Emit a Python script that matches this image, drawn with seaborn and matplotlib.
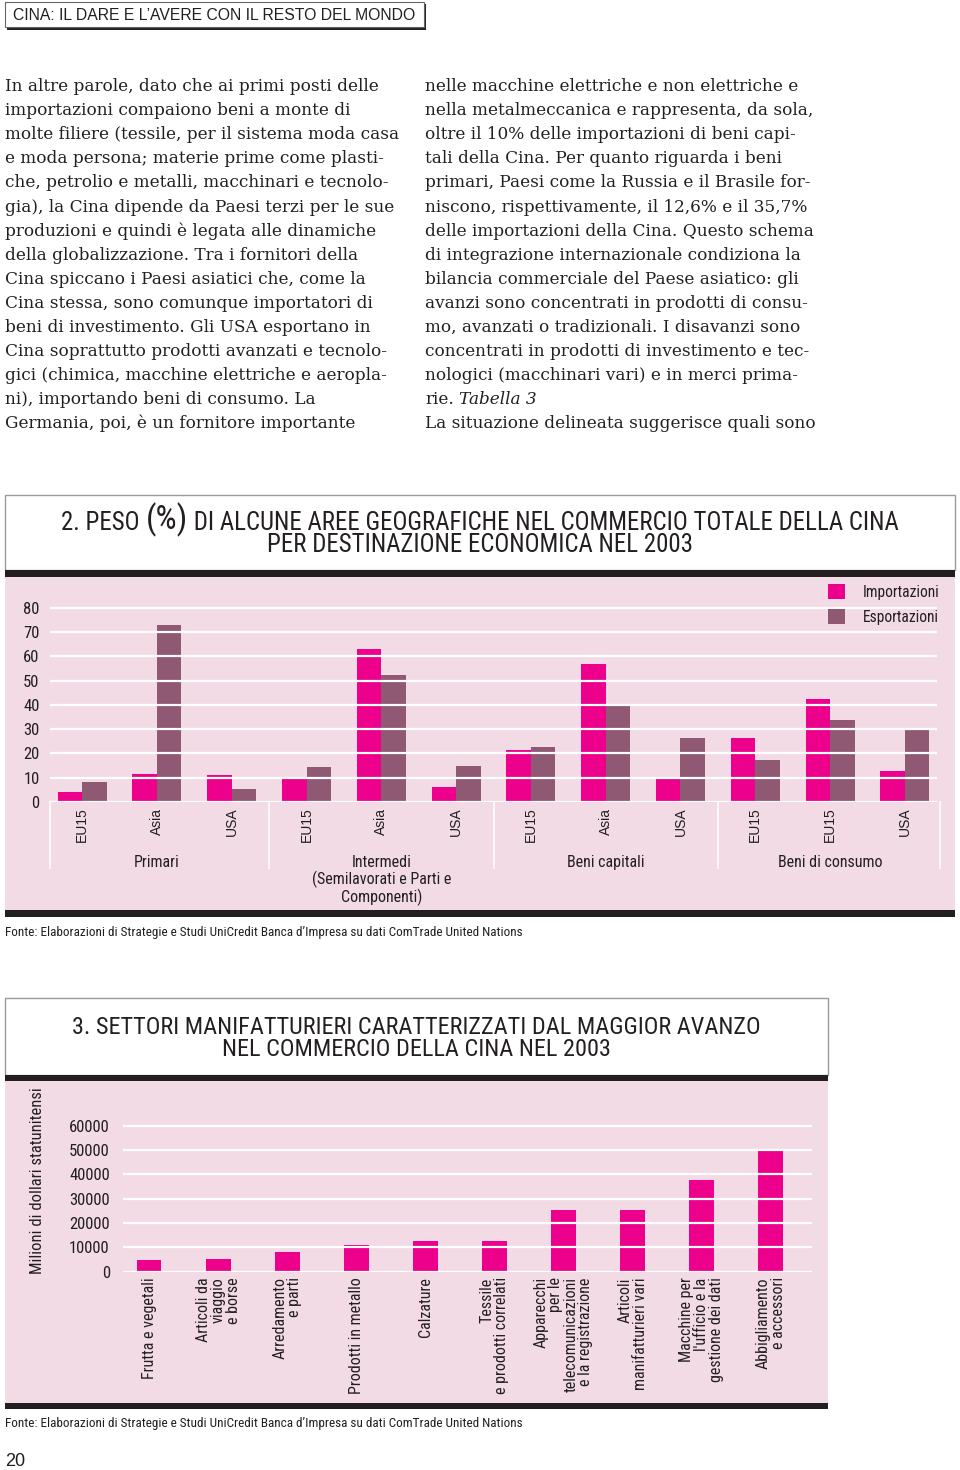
#%% libraries
import pandas as pd
import seaborn as sb
import matplotlib.pyplot as plt
from matplotlib import font_manager as fm
from matplotlib.patches import Rectangle

#%% data
# grafico 2 - peso (%) per area e destinazione economica
gruppi = ['Primari', 'Intermedi\n(Semilavorati e Parti e\nComponenti)', 'Beni capitali', 'Beni di consumo']
aree = ['EU15', 'Asia', 'USA', 'EU15', 'Asia', 'USA', 'EU15', 'Asia', 'USA', 'EU15', 'EU15', 'USA']
importazioni = [4.0, 11.7, 11.1, 10.4, 63.1, 6.3, 21.4, 56.8, 10.3, 26.3, 42.6, 12.9]
esportazioni = [8.2, 73.1, 5.4, 14.3, 52.4, 14.7, 22.7, 39.6, 26.3, 17.3, 33.8, 30.7]

# grafico 3 - settori con maggior avanzo (milioni di dollari)
settori = ['Frutta e vegetali', 'Articoli da\nviaggio\ne borse', 'Arredamento\ne parti',
           'Prodotti in metallo', 'Calzature', 'Tessile\ne prodotti correlati',
           'Apparecchi\nper le\ntelecomunicazioni\ne la registrazione',
           'Articoli\nmanifatturieri vari', "Macchine per\nl'ufficio e la\ngestione dei dati",
           'Abbigliamento\ne accessori']
avanzo = [4660, 5070, 8220, 10820, 12470, 12470, 25340, 25340, 37810, 49590]

testo_sx = ['In altre parole, dato che ai primi posti delle',
            'importazioni compaiono beni a monte di',
            'molte filiere (tessile, per il sistema moda casa',
            'e moda persona; materie prime come plasti-',
            'che, petrolio e metalli, macchinari e tecnolo-',
            'gia), la Cina dipende da Paesi terzi per le sue',
            'produzioni e quindi è legata alle dinamiche',
            'della globalizzazione. Tra i fornitori della',
            'Cina spiccano i Paesi asiatici che, come la',
            'Cina stessa, sono comunque importatori di',
            'beni di investimento. Gli USA esportano in',
            'Cina soprattutto prodotti avanzati e tecnolo-',
            'gici (chimica, macchine elettriche e aeropla-',
            'ni), importando beni di consumo. La',
            'Germania, poi, è un fornitore importante']
testo_dx = ['nelle macchine elettriche e non elettriche e',
            'nella metalmeccanica e rappresenta, da sola,',
            'oltre il 10% delle importazioni di beni capi-',
            'tali della Cina. Per quanto riguarda i beni',
            'primari, Paesi come la Russia e il Brasile for-',
            'niscono, rispettivamente, il 12,6% e il 35,7%',
            'delle importazioni della Cina. Questo schema',
            'di integrazione internazionale condiziona la',
            'bilancia commerciale del Paese asiatico: gli',
            'avanzi sono concentrati in prodotti di consu-',
            'mo, avanzati o tradizionali. I disavanzi sono',
            'concentrati in prodotti di investimento e tec-',
            'nologici (macchinari vari) e in merci prima-',
            'rie.',
            'La situazione delineata suggerisce quali sono']

fonte = 'Fonte: Elaborazioni di Strategie e Studi UniCredit Banca d\u2019Impresa su dati ComTrade United Nations'

#%% style
MAG = '#EC008C'
MAUVE = '#8F5873'
PINK = '#F3DBE6'
DARK = '#231F20'
SANS = ['Liberation Sans', 'DejaVu Sans']
SERIF = ['DejaVu Serif']


# look for a narrow / condensed sans face (the original uses a condensed grotesque)
def trova_condensed():
    fonts = [f for f in fm.fontManager.ttflist
             if f.style == 'normal' and f.weight in (400, 'normal', 'regular')
             and 'Mono' not in f.name and 'Serif' not in f.name]
    for nome in ['Liberation Sans Narrow', 'Roboto Condensed', 'Open Sans Condensed',
                 'Noto Sans Condensed', 'DejaVu Sans Condensed', 'Arial Narrow']:
        for f in fonts:
            if f.name == nome:
                return f.fname
    for f in fonts:
        if f.stretch in ('condensed', 'semi-condensed', 'extra-condensed') or 'Narrow' in f.name \
                or 'Condensed' in f.name:
            return f.fname
    return None


COND_FILE = trova_condensed()


def cond(size):
    if COND_FILE:
        return fm.FontProperties(fname=COND_FILE, size=size)
    return fm.FontProperties(family='DejaVu Sans', stretch='condensed', size=size * 0.8)


W, H = 960, 1470
fig = plt.figure(figsize=(9.6, 14.7), dpi=100)
fig.patch.set_facecolor('white')
renderer = fig.canvas.get_renderer()


def fx(x):
    return x / W


def fy(y):
    return 1 - y / H


def box(x0, y0, x1, y1, **kw):
    fig.add_artist(Rectangle((fx(x0), fy(y1)), (x1 - x0) / W, (y1 - y0) / H,
                             transform=fig.transFigure, zorder=-5, **kw))


def riga_centrata(xc, y, pezzi):
    # one title line made of pieces with different sizes, centred on xc
    testi = [fig.text(0, fy(y), p, fontproperties=cond(s), color=DARK, va='baseline') for p, s in pezzi]
    larg = [t.get_window_extent(renderer).width for t in testi]
    x = xc - sum(larg) / 2
    for t, w in zip(testi, larg):
        t.set_x(fx(x))
        x += w


#%% header and body text
box(7, 4, 426, 29.5, facecolor='#222222', edgecolor='none')
box(5, 2, 424, 27, facecolor='white', edgecolor='#666666', linewidth=0.8)
fig.text(fx(13), fy(15), 'CINA: IL DARE E L\u2019AVERE CON IL RESTO DEL MONDO',
         fontsize=11.3, family=SANS, color=DARK, va='center')

for i, riga in enumerate(testo_sx):
    fig.text(fx(5), fy(91 + 24.1 * i), riga, fontsize=12.2, family=SERIF, color=DARK, va='baseline')
for i, riga in enumerate(testo_dx):
    fig.text(fx(425), fy(91 + 24.1 * i), riga, fontsize=12.2, family=SERIF, color=DARK, va='baseline')
fig.text(fx(459), fy(91 + 24.1 * 13), 'Tabella 3', fontsize=12.2, family=SERIF,
         style='italic', color=DARK, va='baseline')

#%% chart 2 frame
box(5, 495, 955, 570, facecolor='white', edgecolor='#9A9A9A', linewidth=1)
box(5, 570, 955, 577, facecolor=DARK, edgecolor='none')
box(5, 577, 955, 910, facecolor=PINK, edgecolor='none')
box(5, 910, 955, 917, facecolor=DARK, edgecolor='none')
riga_centrata(480, 529.5, [('2. PESO ', 17.9), ('(%)', 24),
                           (' DI ALCUNE AREE GEOGRAFICHE NEL COMMERCIO TOTALE DELLA CINA', 17.9)])
riga_centrata(480, 551.5, [('PER DESTINAZIONE ECONOMICA NEL 2003', 17.9)])

pos = [str(i) for i in range(len(aree))]
df2 = pd.DataFrame({'pos': pos * 2,
                    'valore': importazioni + esportazioni,
                    'flusso': ['Importazioni'] * len(pos) + ['Esportazioni'] * len(pos)})

ax2 = fig.add_axes([fx(50), fy(802), (937 - 50) / W, (802 - 591) / H])
ax2.set_facecolor('none')
sb.barplot(data=df2, x='pos', y='valore', hue='flusso', order=pos,
           palette={'Importazioni': MAG, 'Esportazioni': MAUVE},
           width=0.655, gap=0, saturation=1, errorbar=None, linewidth=0, ax=ax2)
ax2.set_xlim(-0.43, 11.43)
ax2.set_ylim(0, 87)
ax2.set_yticks(range(0, 81, 10))
ax2.set_xticks(range(len(aree)))
ax2.set_xticklabels(aree, rotation=90, family=SANS, fontsize=10, color=DARK)
for lab in ax2.get_yticklabels():
    lab.set_fontproperties(cond(12))
ax2.tick_params(axis='y', length=0, pad=7.5, labelcolor=DARK)
ax2.tick_params(axis='x', length=0, pad=4)
ax2.set_xlabel('')
ax2.set_ylabel('')
for s in ax2.spines.values():
    s.set_visible(False)
ax2.yaxis.grid(True, color='white', linewidth=1.6)
ax2.set_axisbelow(False)

# group frame and labels under the axis
trans = ax2.get_xaxis_transform()
for xv in [-0.43, 2.5, 5.5, 8.5, 11.47]:
    ax2.plot([xv, xv], [0, -0.313], transform=trans, color='white', linewidth=1.2, clip_on=False)
for i, g in enumerate(gruppi):
    ax2.text(3 * i + 1, -0.251, g, transform=trans, ha='center', va='top',
             fontproperties=cond(11.5), color=DARK, linespacing=1.05)

h, l = ax2.get_legend_handles_labels()
ax2.legend(h, l, loc='upper right', bbox_to_anchor=(fx(940), fy(584)), bbox_transform=fig.transFigure,
           frameon=False, borderaxespad=0, borderpad=0, handlelength=1.1, handleheight=1.1,
           handletextpad=1.15, labelspacing=0.6, prop=cond(11.2), labelcolor=DARK)

fig.text(fx(5), fy(933), fonte, fontproperties=cond(9.5), color=DARK, va='center')

#%% chart 3 frame
box(5, 998, 828, 1075, facecolor='white', edgecolor='#9A9A9A', linewidth=1)
box(5, 1075, 828, 1081, facecolor=DARK, edgecolor='none')
box(5, 1081, 828, 1403, facecolor=PINK, edgecolor='none')
box(5, 1403, 828, 1409, facecolor=DARK, edgecolor='none')
riga_centrata(416, 1033.5, [('3. SETTORI MANIFATTURIERI CARATTERIZZATI DAL MAGGIOR AVANZO', 17.5)])
riga_centrata(416, 1055.5, [('NEL COMMERCIO DELLA CINA NEL 2003', 17.5)])

ax3 = fig.add_axes([fx(123), fy(1271.7), 689 / W, 175.2 / H])
ax3.set_facecolor('none')
sb.barplot(x=settori, y=avanzo, color=MAG, width=0.355, saturation=1,
           errorbar=None, linewidth=0, ax=ax3)
ax3.set_xlim(-0.38, 9.6)
ax3.set_ylim(0, 72000)
ax3.set_yticks(range(0, 60001, 10000))
ax3.set_xticks(range(len(settori)))
ax3.set_xticklabels(settori, rotation=90, color=DARK,
                    ha='center', va='top', multialignment='right', linespacing=1.0)
for lab in ax3.get_xticklabels():
    lab.set_fontproperties(cond(11.5))
for lab in ax3.get_yticklabels():
    lab.set_fontproperties(cond(12))
ax3.tick_params(axis='y', length=0, pad=9.5, labelcolor=DARK)
ax3.tick_params(axis='x', length=0, pad=4)
for s in ax3.spines.values():
    s.set_visible(False)
ax3.yaxis.grid(True, color='white', linewidth=1.6)
ax3.set_axisbelow(False)
ax3.set_ylabel('Milioni di dollari statunitensi', fontproperties=cond(12), color=DARK)
ax3.yaxis.set_label_coords(-0.113, 0.518)

fig.text(fx(5), fy(1423), fonte, fontproperties=cond(9.5), color=DARK, va='center')
fig.text(fx(5), fy(1462), '20', fontsize=13, family=SANS, color=DARK, va='center')

fig.savefig('out.png', dpi=100)
